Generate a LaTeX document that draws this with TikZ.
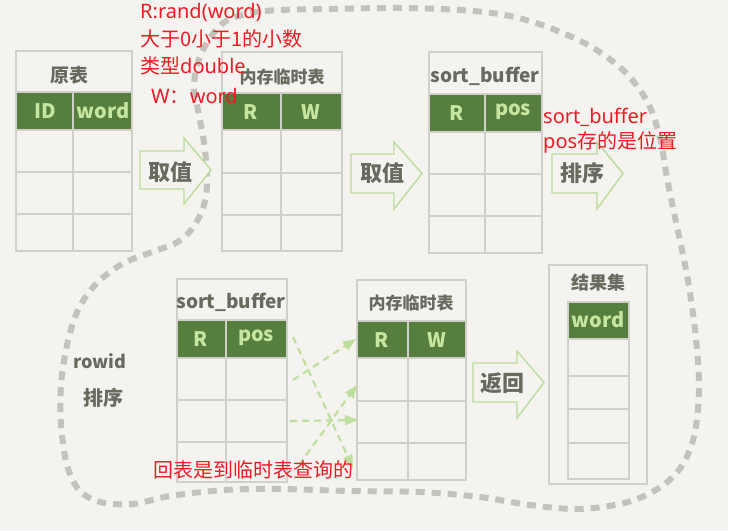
\documentclass[tikz,border=0pt]{standalone}
\usepackage{fontspec}
\setmainfont{Noto Sans}
\newfontfamily\cjk{Noto Sans CJK SC}
\newfontfamily\handc{Noto Sans CJK SC}
\usetikzlibrary{arrows.meta}
\definecolor{bgc}{HTML}{F4F3EF}
\definecolor{gridc}{HTML}{D0CFCA}
\definecolor{hdrc}{HTML}{557E3F}
\definecolor{hdrtext}{HTML}{C6E6A0}
\definecolor{grayt}{HTML}{6A695E}
\definecolor{redc}{HTML}{EC1C24}
\definecolor{arrc}{HTML}{BBDC9B}
\definecolor{dasharr}{HTML}{BEDF9E}
\definecolor{blobc}{HTML}{C4C3BB}
\newcommand\tbltwo[9]{%
  \fill[hdrc] (#1,#5) rectangle (#3,#6);
  \draw[gridline] (#1,#4) rectangle (#3,#9);
  \draw[gridline] (#1,#5) -- (#3,#5) (#1,#6) -- (#3,#6) (#1,#7) -- (#3,#7) (#1,#8) -- (#3,#8) (#2,#5) -- (#2,#9);
}
\newcommand\blockarrow[7]{%
  \draw[barrow] (#1,#2) -- (#4,#2) -- (#4,#5) -- (#7,{(#2+#3)/2}) -- (#4,#6) -- (#4,#3) -- (#1,#3) -- cycle;
}
\tikzset{
  gridline/.style={draw=gridc, line width=1.8pt},
  barrow/.style={draw=arrc, line width=1.4pt, fill=bgc, line join=miter},
  redt/.style={text=redc, font=\fontsize{20}{24}\selectfont, inner sep=0pt, anchor=base west},
  titlec/.style={text=grayt, font=\handc\bfseries\fontsize{#1}{#1}\selectfont, inner sep=0pt},
  titlec/.default=18,
  hdrt/.style={text=hdrtext, font=\handc\bfseries\fontsize{20}{20}\selectfont, inner sep=0pt},
  dconn/.style={draw=dasharr, line width=2.2pt, dash pattern=on 7pt off 5pt, -{Triangle[length=13pt,width=10pt]}},
  blob/.style={draw=blobc, line width=6pt, dash pattern=on 9pt off 7pt}
}
\begin{document}
\begin{tikzpicture}[x=1pt,y=-1pt]
\useasboundingbox (0,0) rectangle (735,531);
\fill[bgc] (0,0) rectangle (728,531);
\fill[white] (728,0) rectangle (735,531);

% dashed outline
\draw[blob] plot[smooth cycle, tension=0.55] coordinates {
 (228,20) (265,11) (330,9) (400,8) (460,10) (505,15) (545,26) (590,46) (625,72)
 (648,103) (660,138) (667,178) (676,222) (687,275) (695,330) (699,385) (695,432)
 (683,464) (662,486) (628,502) (580,509) (530,505) (480,497) (420,492) (350,491)
 (280,489) (225,490) (170,496) (133,504) (100,502) (79,490) (67,465) (61,425)
 (61,385) (67,345) (78,310) (96,284) (122,264) (152,252) (176,243) (192,229)
 (203,208) (207,185) (205,150) (199,115) (194,88) (198,62) (210,38)};

% tables
\tbltwo{16}{73}{132}{51}{92}{130}{172}{214}{251}
\tbltwo{222}{281}{342}{52}{93}{130}{173}{215}{251}
\tbltwo{429}{485}{542}{52}{94}{132}{174}{216}{253}
\tbltwo{177}{226}{287}{279}{320}{358}{400}{442}{482}
\tbltwo{357}{408}{466}{280}{321}{358}{401}{443}{480}
% result set
\draw[gridline] (549,265) rectangle (647,484);
\fill[hdrc] (568,302) rectangle (629,339);
\draw[gridline] (568,302) rectangle (629,479);
\draw[gridline] (568,339) -- (629,339) (568,376) -- (629,376) (568,409) -- (629,409) (568,443) -- (629,443);

% block arrows
\blockarrow{140}{151}{189}{184}{138}{204}{211}
\blockarrow{351}{154}{193}{394}{142}{209}{422}
\blockarrow{552}{154}{193}{597}{142}{209}{623}
\blockarrow{473}{363}{402}{517}{351}{418}{544}

% titles
\node[titlec=19] (t1) at (69,75) {原表};
\node[titlec=17] (t2) at (282,77) {内存临时表};
\node[titlec=19] (t3) at (485,76) {sort\_buffer};
\node[titlec=19] (t4) at (231,302) {sort\_buffer};
\node[titlec=17] (t5) at (411,303) {内存临时表};
\node[titlec=18] (t6) at (598,283) {结果集};

% headers
\node[hdrt] (h1) at (45,111) {ID};
\node[hdrt] (h2) at (103,111) {word};
\node[hdrt] (h3) at (251,112) {R};
\node[hdrt] (h4) at (311,112) {W};
\node[hdrt] (h5) at (457,113) {R};
\node[hdrt] (h6) at (513,112) {pos};
\node[hdrt] (h7) at (201,339) {R};
\node[hdrt] (h8) at (256,338) {pos};
\node[hdrt] (h9) at (382,340) {R};
\node[hdrt] (h10) at (437,340) {W};
\node[hdrt] (h11) at (598,320) {word};

% arrow labels
\node[titlec=22] (a1) at (170,172) {取值};
\node[titlec=22] (a2) at (382,173) {取值};
\node[titlec=22] (a3) at (582,173) {排序};
\node[titlec=22] (a4) at (502,383) {返回};
\node[titlec=18] (rw) at (100,361) {rowid};
\node[titlec=20] (rs) at (103,398) {排序};

% dashed connectors
\coordinate (s1) at (293,337); \coordinate (e1) at (353,468);
\coordinate (s2) at (293,380); \coordinate (e2) at (356,339);
\coordinate (s3) at (290,421); \coordinate (e3) at (358,420);
\coordinate (s4) at (299,465); \coordinate (e4) at (357,385);
\draw[dconn] (s1) -- (e1);
\draw[dconn] (s2) -- (e2);
\draw[dconn] (s3) -- (e3);
\draw[dconn] (s4) -- (e4);

% red annotations
\node[redt] (r1) at (140,18) {R:rand(word)};
\node[redt] (r2) at (140,46) {\cjk 大于0小于1的小数};
\node[redt] (r3) at (140,73) {{\cjk 类型}double};
\node[redt] (r4) at (151,103) {W{\cjk ：}word};
\node[redt] (r5) at (543,123) {sort\_buffer};
\node[redt] (r6) at (543,148) {pos{\cjk 存的是位置}};
\node[redt] (r7) at (153,477) {\cjk 回表是到临时表查询的};
\end{tikzpicture}
\end{document}
